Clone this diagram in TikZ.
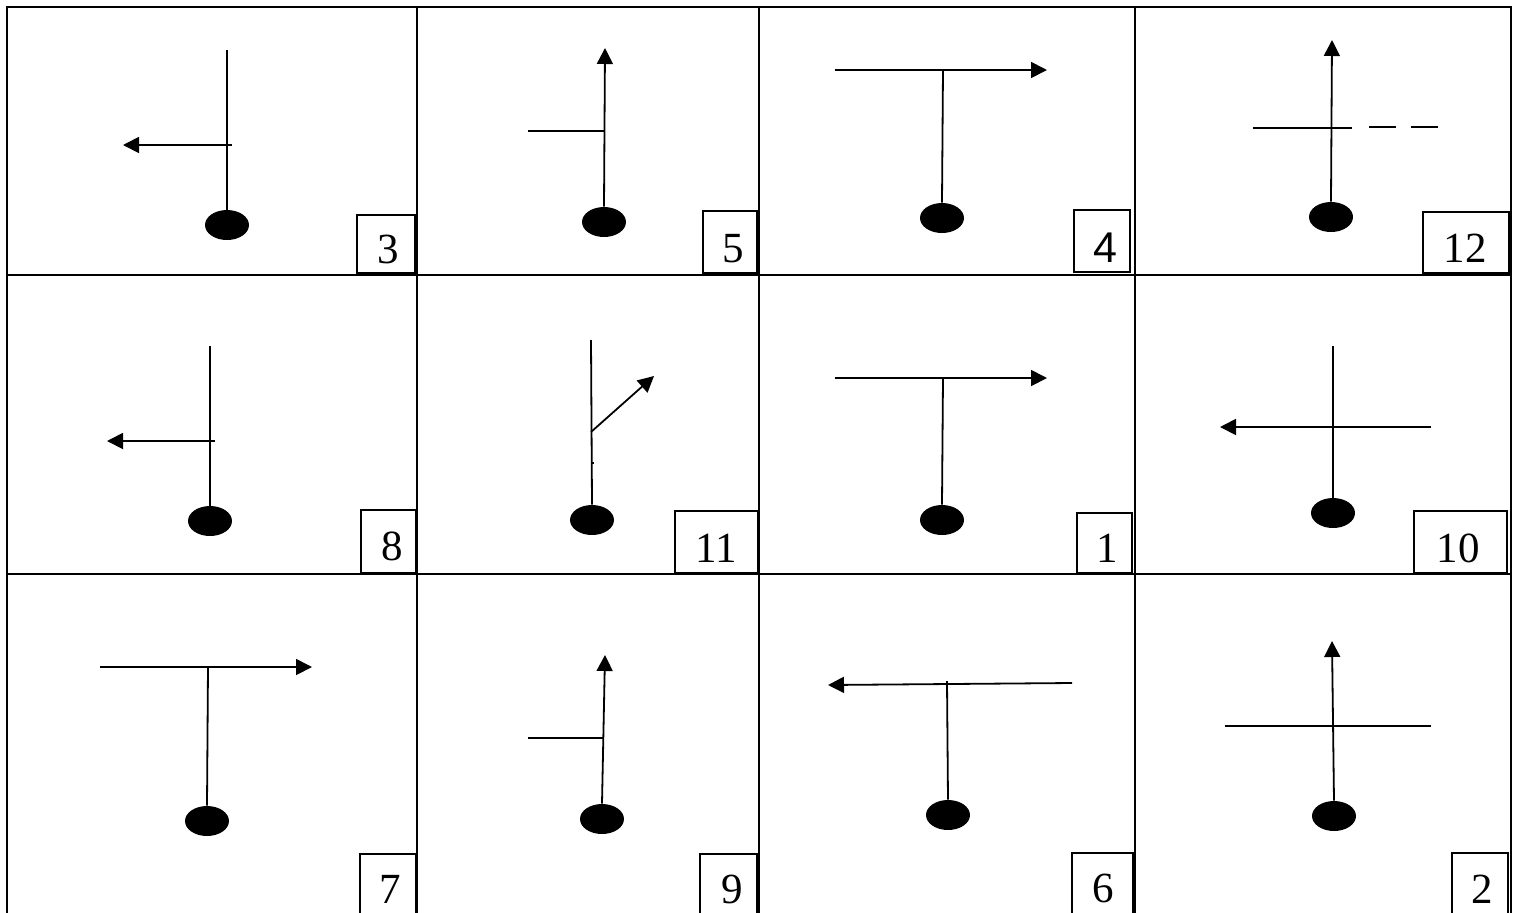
\documentclass[tikz,border=0pt]{standalone}
\usepackage{fontspec}
\setmainfont{Liberation Serif}
\newfontfamily\arialfont{Liberation Sans}
\usetikzlibrary{arrows.meta,shapes.geometric}
\begin{document}
\begin{tikzpicture}[x=0.5pt,y=-0.5pt,
  gridline/.style={line width=1.3pt,line cap=rect},
  stem/.style={line width=0.9pt},
  arr/.style={line width=0.9pt,-{Triangle[length=8pt,width=8pt]}},
  bob/.style={ellipse,fill=black,minimum width=22pt,minimum height=15pt,inner sep=0pt},
  numbox/.style={draw,line width=0.7pt,inner sep=0pt},
  num/.style={anchor=base,inner sep=0pt,font=\fontsize{21.5}{26}\selectfont}]
\useasboundingbox (0,0) rectangle (1517,912);
% grid
\draw[gridline] (7,7) -- (1511,7);
\draw[gridline] (7,275) -- (1511,275);
\draw[gridline] (7,574) -- (1511,574);
\draw[gridline] (7,7) -- (7,915);
\draw[gridline] (417,7) -- (417,915);
\draw[gridline] (759,7) -- (759,915);
\draw[gridline] (1135,7) -- (1135,915);
\draw[gridline] (1511,7) -- (1511,915);

% ---- cell 3
\node[bob] (e3) at (227,225) {};
\coordinate (s3) at (227,50);
\draw[stem] (s3) -- (e3.north);
\coordinate (h3) at (232,145);
\coordinate (a3) at (123,145);
\draw[arr] (h3) -- (a3);
\node[numbox,minimum width=29pt,minimum height=29pt] (b3) at (386,244) {};
\node[num] (t3) at (388,263) {3};

% ---- cell 5
\node[bob] (e5) at (604,222) {};
\coordinate (a5) at (605,48);
\draw[arr] (e5.north) -- (a5);
\coordinate (l5) at (528,131);
\coordinate (j5) at (604,131);
\draw[stem] (l5) -- (j5);
\node[numbox,minimum width=27pt,minimum height=31pt] (b5) at (730,242) {};
\node[num] (t5) at (733,262) {5};

% ---- cell 4
\node[bob] (e4) at (942,218) {};
\coordinate (s4) at (943,70);
\draw[stem] (s4) -- (e4.north);
\coordinate (h4) at (835,70);
\coordinate (a4) at (1047,70);
\draw[arr] (h4) -- (a4);
\node[numbox,minimum width=28pt,minimum height=31pt] (b4) at (1102,241) {};
\node[num,font=\arialfont\fontsize{21.5}{26}\selectfont] (t4) at (1105,262) {4};

% ---- cell 12
\node[bob] (e12) at (1331,217) {};
\coordinate (a12) at (1332,40);
\draw[arr] (e12.north) -- (a12);
\coordinate (l12) at (1253,128);
\coordinate (r12) at (1352,128);
\draw[stem] (l12) -- (r12);
\coordinate (d12a) at (1369,127);
\coordinate (d12b) at (1438,127);
\draw[stem,dash pattern=on 13.5pt off 7.5pt] (d12a) -- (d12b);
\node[numbox,minimum width=43pt,minimum height=30.5pt] (b12) at (1466,242.5) {};
\node[num] (t12) at (1465,262) {12};

% ---- cell 8
\node[bob] (e8) at (210,521) {};
\coordinate (s8) at (210,346);
\draw[stem] (s8) -- (e8.north);
\coordinate (h8) at (215,441);
\coordinate (a8) at (107,441);
\draw[arr] (h8) -- (a8);
\node[numbox,minimum width=27.5pt,minimum height=31.5pt] (b8) at (388.5,541.5) {};
\node[num] (t8) at (392,560) {8};

% ---- cell 11
\node[bob] (e11) at (592,520) {};
\coordinate (s11) at (591,340);
\draw[stem] (s11) -- (e11.north);
\coordinate (j11) at (591,432);
\coordinate (a11) at (654,376);
\draw[arr] (j11) -- (a11);
\coordinate (k11a) at (591,463);
\coordinate (k11b) at (594,463);
\draw[stem] (k11a) -- (k11b);
\node[numbox,minimum width=41.5pt,minimum height=31pt] (b11) at (716.5,542) {};
\node[num] (t11) at (716,562) {11};

% ---- cell 1
\node[bob] (e1) at (942,520) {};
\coordinate (s1) at (943,378);
\draw[stem] (s1) -- (e1.north);
\coordinate (h1) at (835,378);
\coordinate (a1) at (1047,378);
\draw[arr] (h1) -- (a1);
\node[numbox,minimum width=27.5pt,minimum height=30pt] (b1) at (1104.5,543) {};
\node[num] (t1) at (1107,562) {1};

% ---- cell 10
\node[bob] (e10) at (1333,513) {};
\coordinate (s10) at (1333,346);
\draw[stem] (s10) -- (e10.north);
\coordinate (h10) at (1431,427);
\coordinate (a10) at (1220,427);
\draw[arr] (h10) -- (a10);
\node[numbox,minimum width=46.5pt,minimum height=31pt] (b10) at (1460.5,542) {};
\node[num] (t10) at (1458,562) {10};

% ---- cell 7
\node[bob] (e7) at (207,821) {};
\coordinate (s7) at (208,667);
\draw[stem] (s7) -- (e7.north);
\coordinate (h7) at (100,667);
\coordinate (a7) at (312,667);
\draw[arr] (h7) -- (a7);
\node[numbox,minimum width=28pt,minimum height=30.5pt] (b7) at (388,884.5) {};
\node[num] (t7) at (390,903) {7};

% ---- cell 9
\node[bob] (e9) at (602,819) {};
\coordinate (a9) at (605,655);
\draw[arr] (e9.north) -- (a9);
\coordinate (l9) at (528,738);
\coordinate (j9) at (604,738);
\draw[stem] (l9) -- (j9);
\node[numbox,minimum width=28.5pt,minimum height=30.5pt] (b9) at (728.5,884.5) {};
\node[num] (t9) at (732,903) {9};

% ---- cell 6
\node[bob] (e6) at (948,815) {};
\coordinate (s6) at (947,681);
\draw[stem] (s6) -- (e6.north);
\coordinate (h6) at (1072,683);
\coordinate (a6) at (828,685);
\draw[arr] (h6) -- (a6);
\node[numbox,minimum width=30.5pt,minimum height=31pt] (b6) at (1102.5,884) {};
\node[num] (t6) at (1103,902) {6};

% ---- cell 2
\node[bob] (e2) at (1334,816) {};
\coordinate (a2) at (1332,641);
\draw[arr] (e2.north) -- (a2);
\coordinate (l2) at (1225,726);
\coordinate (r2) at (1431,726);
\draw[stem] (l2) -- (r2);
\node[numbox,minimum width=28pt,minimum height=31pt] (b2) at (1480,884) {};
\node[num] (t2) at (1482,903) {2};
\end{tikzpicture}
\end{document}
